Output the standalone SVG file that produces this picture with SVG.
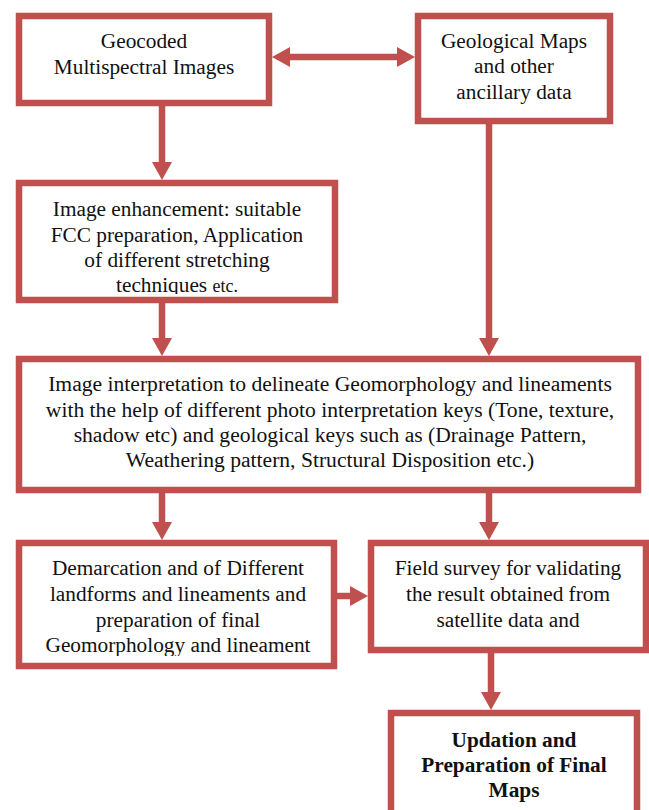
<svg xmlns="http://www.w3.org/2000/svg" width="649" height="810" viewBox="0 0 649 810">
<style>
.box{fill:#fff;stroke:#C0504D;stroke-width:6.5}
.con{stroke:#C0504D;stroke-width:6.5;fill:none}
text{font-family:'Liberation Serif','Times New Roman',serif;font-size:21.3px;font-weight:normal;fill:#111;text-anchor:middle}
text.b{font-weight:bold}
text.w{font-size:21.6px}
</style>
<defs>
<marker id="ah" markerUnits="userSpaceOnUse" markerWidth="18" markerHeight="20" refX="0" refY="10" orient="auto-start-reverse" overflow="visible">
<path d="M0,0 L18,10 L0,20 z" fill="#C0504D"/>
</marker>
<clipPath id="c3"><rect x="0" y="170" width="649" height="124"/></clipPath>
<clipPath id="c5"><rect x="0" y="530" width="649" height="126"/></clipPath>
<clipPath id="c6"><rect x="0" y="530" width="649" height="113"/></clipPath>
</defs>
<rect width="649" height="810" fill="#fff"/>
<g id="connectors">
<line class="con" x1="290" y1="57" x2="397" y2="57" marker-start="url(#ah)" marker-end="url(#ah)"/>
<line class="con" x1="162" y1="106" x2="162" y2="162" marker-end="url(#ah)"/>
<line class="con" x1="489" y1="124" x2="489" y2="338" marker-end="url(#ah)"/>
<line class="con" x1="162" y1="303" x2="162" y2="338" marker-end="url(#ah)"/>
<line class="con" x1="162" y1="493" x2="162" y2="522" marker-end="url(#ah)"/>
<line class="con" x1="489" y1="493" x2="489" y2="522" marker-end="url(#ah)"/>
<line class="con" x1="334" y1="596" x2="350" y2="596" marker-end="url(#ah)"/>
<line class="con" x1="491" y1="653" x2="491" y2="692" marker-end="url(#ah)"/>
</g>
<g id="n1">
<rect class="box" x="19" y="16" width="250" height="87"/>
<text x="144" y="48">Geocoded</text>
<text x="144" y="74">Multispectral Images</text>
</g>
<g id="n2">
<rect class="box" x="418" y="16" width="192" height="105"/>
<text x="514" y="48">Geological Maps</text>
<text x="514" y="73">and other</text>
<text x="514" y="99">ancillary data</text>
</g>
<g id="n3">
<rect class="box" x="19" y="183" width="316" height="117"/>
<g clip-path="url(#c3)">
<text x="177" y="216">Image enhancement: suitable</text>
<text x="177" y="242">FCC preparation, Application</text>
<text x="177" y="267">of different stretching</text>
<text x="177" y="292">techniques <tspan font-size="18">etc.</tspan></text>
</g>
</g>
<g id="n4">
<rect class="box" x="19" y="359" width="619" height="131"/>
<text class="w" x="330" y="391">Image interpretation to delineate Geomorphology and lineaments</text>
<text class="w" x="330" y="417">with the help of different photo interpretation keys (Tone, texture,</text>
<text class="w" x="330" y="442">shadow etc) and geological keys such as (Drainage Pattern,</text>
<text class="w" x="330" y="467">Weathering pattern, Structural Disposition etc.)</text>
</g>
<g id="n5">
<rect class="box" x="19" y="543" width="315" height="123"/>
<g clip-path="url(#c5)">
<text x="178" y="575">Demarcation and of Different</text>
<text x="178" y="601">landforms and lineaments and</text>
<text x="178" y="627">preparation of final</text>
<text x="178" y="652">Geomorphology and lineament</text>
</g>
</g>
<g id="n6">
<rect class="box" x="371" y="543" width="275" height="107"/>
<g clip-path="url(#c6)">
<text x="508" y="575">Field survey for validating</text>
<text x="508" y="601">the result obtained from</text>
<text x="508" y="627">satellite data and</text>
</g>
</g>
<g id="n7">
<rect class="box" x="391" y="713" width="246" height="130"/>
<text class="b" x="514" y="747">Updation and</text>
<text class="b" x="514" y="772">Preparation of Final</text>
<text class="b" x="514" y="797">Maps</text>
</g>
</svg>
